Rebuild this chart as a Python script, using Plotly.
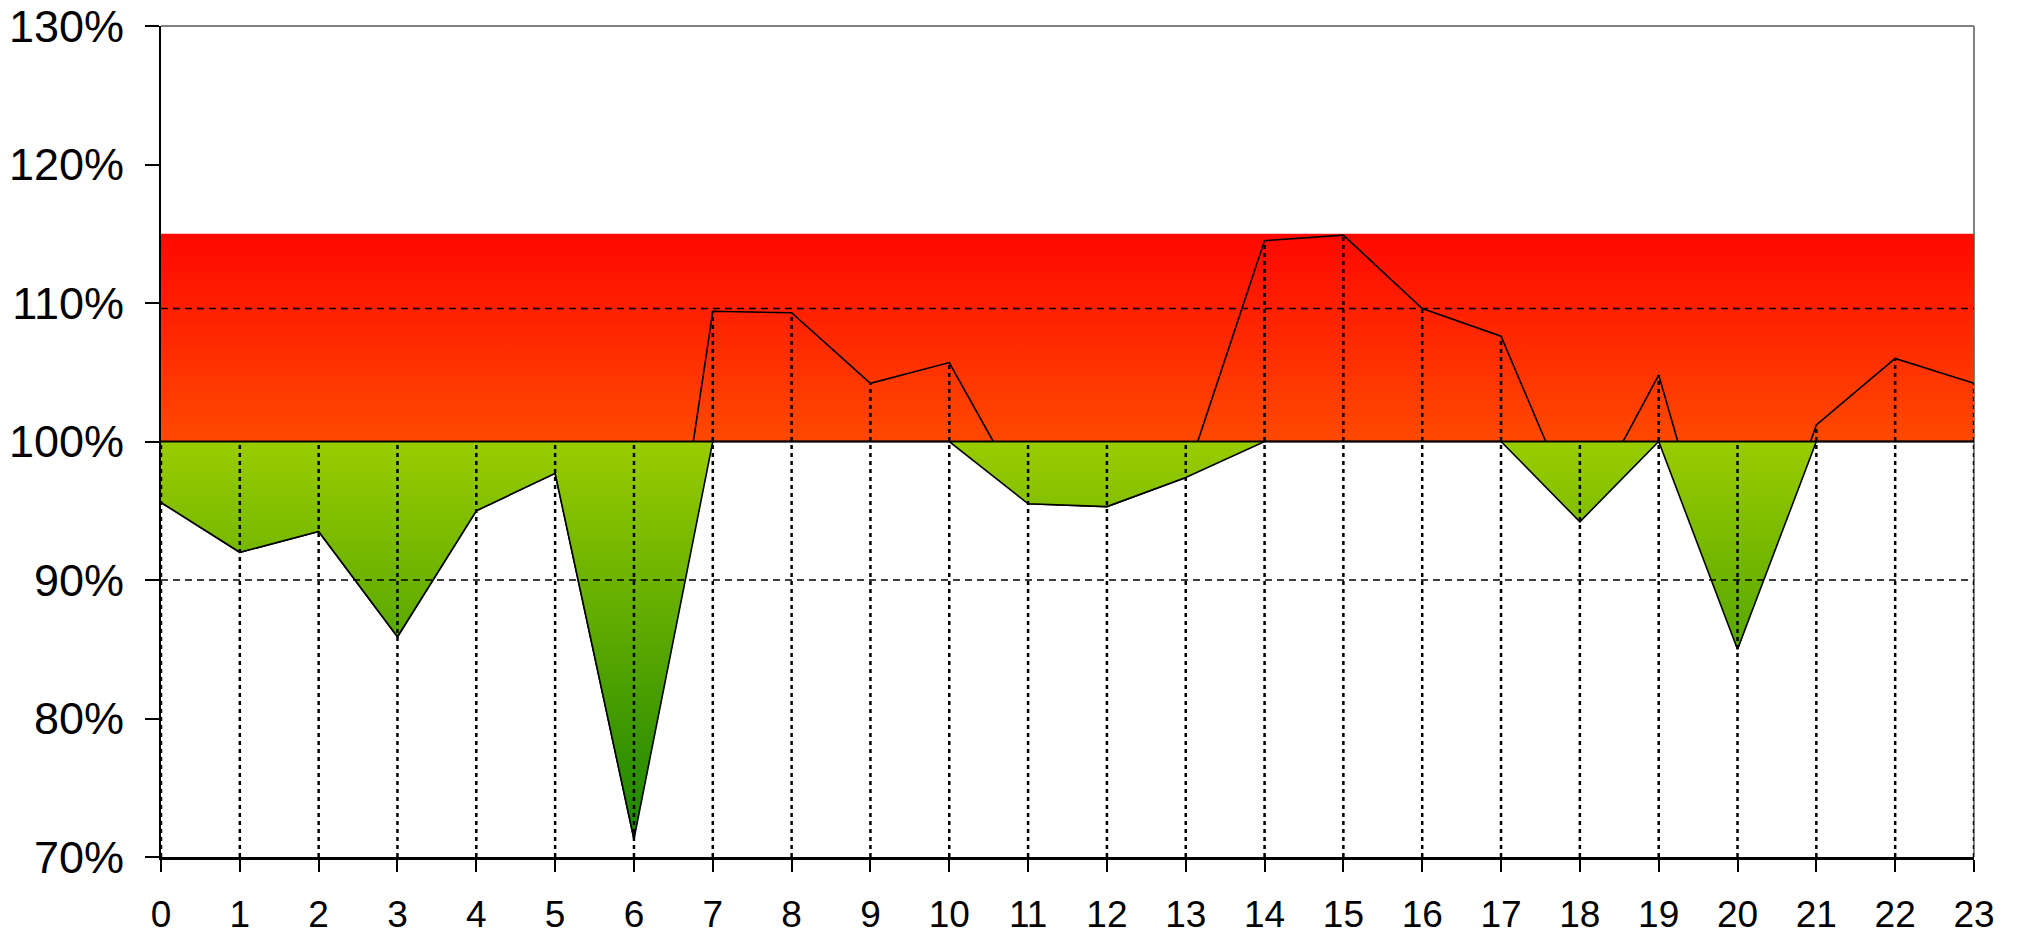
import plotly.graph_objects as go

# ---- data ----
hours = list(range(24))
load_pct = [95.6, 92.0, 93.5, 85.9, 95.0, 97.7, 71.3, 109.4, 109.3, 104.2,
            105.7, 95.5, 95.3, 97.4, 114.5, 114.9, 109.6, 107.6, 94.2, 104.8,
            85.0, 101.2, 106.0, 104.2]
baseline = 100.0
red_band_top = 115.0
lower_limit = 90.0
upper_limit = 109.6
y_min, y_max = 70, 130
y_ticks = [70, 80, 90, 100, 110, 120, 130]
y_tick_text = [f"{t}%" for t in y_ticks]

FONT = "Liberation Sans, Arial, sans-serif"

below = [min(v, baseline) for v in load_pct]
drop_top = [max(v, baseline) for v in load_pct]

fig = go.Figure()

# red gradient band 100..115
fig.add_trace(go.Scatter(
    x=[hours[0], hours[-1], hours[-1], hours[0], hours[0]],
    y=[baseline, baseline, red_band_top, red_band_top, baseline],
    mode="lines", line=dict(width=0), fill="toself",
    fillgradient=dict(type="vertical", start=baseline, stop=red_band_top,
                      colorscale=[[0, "#FF4A00"], [1, "#FF0800"]]),
    hoverinfo="skip", showlegend=False))

# data line
fig.add_trace(go.Scatter(x=hours, y=load_pct, mode="lines",
                         line=dict(color="black", width=1.6),
                         showlegend=False))

# green area between min(v,100) and 100
fig.add_trace(go.Scatter(x=hours, y=[baseline] * len(hours), mode="lines",
                         line=dict(width=0), hoverinfo="skip", showlegend=False))
fig.add_trace(go.Scatter(
    x=hours, y=below, mode="lines", fill="tonexty",
    fillgradient=dict(type="vertical", start=y_min, stop=baseline,
                      colorscale=[[0, "#148000"], [1, "#99CC00"]]),
    line=dict(color="black", width=1.6), hoverinfo="skip", showlegend=False))

# baseline 100%
fig.add_trace(go.Scatter(x=[hours[0], hours[-1]], y=[baseline, baseline],
                         mode="lines", line=dict(color="black", width=2),
                         hoverinfo="skip", showlegend=False))

# drop lines
dx, dy = [], []
for h, t in zip(hours, drop_top):
    dx += [h, h, None]
    dy += [y_min, t, None]
fig.add_trace(go.Scatter(x=dx, y=dy, mode="lines",
                         line=dict(color="black", width=2.5, dash="4px,4px"),
                         hoverinfo="skip", showlegend=False))

# dashed limit lines
for lim in (lower_limit, upper_limit):
    fig.add_trace(go.Scatter(x=[hours[0], hours[-1]], y=[lim, lim], mode="lines",
                             line=dict(color="black", width=1.5, dash="7px,5px"),
                             hoverinfo="skip", showlegend=False))

# page body adds an 8px margin; figure sized so the plot lands on the reference pixels
fig.update_layout(
    width=2010, height=927,
    margin=dict(l=153, r=44, t=18, b=78, autoexpand=False),
    paper_bgcolor="white", plot_bgcolor="white",
    font=dict(family=FONT, color="black"),
    showlegend=False,
    shapes=[
        dict(type="line", xref="paper", yref="paper", x0=0, x1=1, y0=1, y1=1,
             line=dict(color="#808080", width=2)),
        dict(type="line", xref="paper", yref="paper", x0=1, x1=1, y0=0, y1=1,
             line=dict(color="#808080", width=2), layer="below"),
    ],
)
fig.update_xaxes(range=[hours[0], hours[-1]], tickvals=hours,
                 showgrid=False, zeroline=False, automargin=False,
                 showline=True, linecolor="black", linewidth=2.5,
                 ticks="outside", ticklen=12, tickwidth=2, tickcolor="black",
                 ticklabelstandoff=11, ticklabeloverflow="allow",
                 tickfont=dict(family=FONT, size=37, color="black"))
fig.update_yaxes(range=[y_min, y_max], tickvals=y_ticks, ticktext=y_tick_text,
                 showgrid=False, zeroline=False, automargin=False,
                 showline=True, linecolor="black", linewidth=2,
                 ticks="outside", ticklen=14, tickwidth=2, tickcolor="black",
                 ticklabelstandoff=12, ticklabeloverflow="allow",
                 tickfont=dict(family=FONT, size=45, color="black"))

fig.write_html("out.html")
